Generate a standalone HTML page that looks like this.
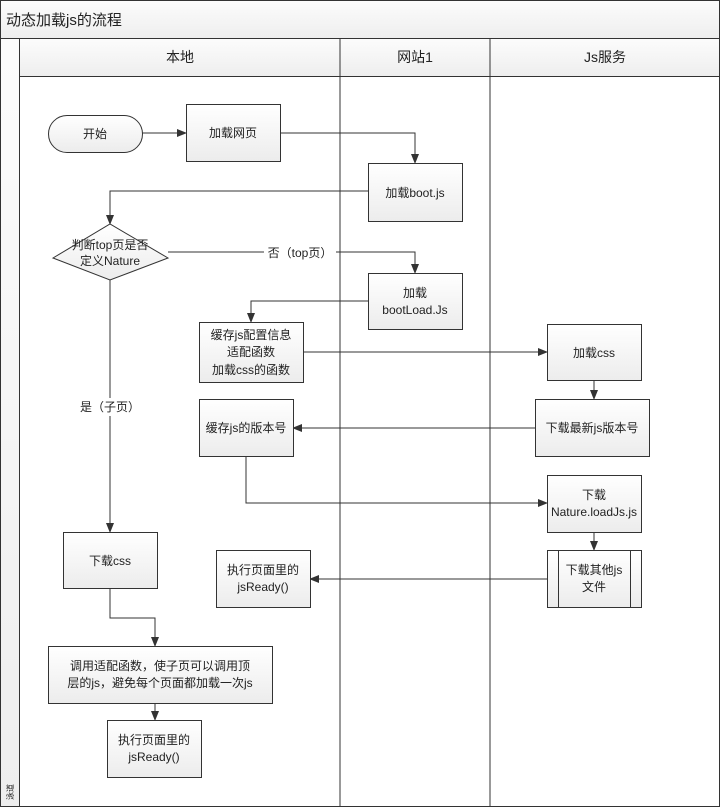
<!DOCTYPE html>
<html><head><meta charset="utf-8"><style>
html,body{margin:0;padding:0;background:#fff;}
svg{display:block;}
text{font-family:"Liberation Sans","Noto Sans CJK SC",sans-serif;font-size:12px;fill:#222;}
</style></head><body>
<svg width="720" height="807" viewBox="0 0 720 807" xmlns="http://www.w3.org/2000/svg">
<defs>
<linearGradient id="g" x1="0" y1="0" x2="0" y2="1"><stop offset="0" stop-color="#ffffff"/><stop offset="1" stop-color="#ececec"/></linearGradient>
<linearGradient id="h" x1="0" y1="0" x2="0" y2="1"><stop offset="0" stop-color="#fcfcfc"/><stop offset="1" stop-color="#eeeeee"/></linearGradient>
<marker id="a" markerWidth="10" markerHeight="10" refX="9" refY="5" orient="auto" markerUnits="userSpaceOnUse"><path d="M0,1 L10,5 L0,9 Z" fill="#333"/></marker>
</defs>
<rect x="0.5" y="0.5" width="719" height="806" fill="#fff" stroke="#333"/>
<rect x="0.5" y="0.5" width="719" height="38" fill="url(#h)" stroke="#333"/>
<text x="6" y="25" style="font-size:15px">动态加载js的流程</text>
<rect x="0.5" y="38.5" width="19" height="768" fill="url(#h)" stroke="#333"/>
<text x="0" y="0" transform="translate(13,800) rotate(-90)" style="font-size:8px">泳道</text>
<rect x="19.5" y="38.5" width="700" height="38" fill="url(#h)" stroke="#333"/>
<line x1="340" y1="38" x2="340" y2="807" stroke="#333"/>
<line x1="490" y1="38" x2="490" y2="807" stroke="#333"/>
<text x="180" y="62" text-anchor="middle" style="font-size:14px">本地</text>
<text x="415" y="62" text-anchor="middle" style="font-size:14px">网站1</text>
<text x="605" y="62" text-anchor="middle" style="font-size:14px">Js服务</text>

<g fill="none" stroke="#333" stroke-width="1">
<path d="M142,133 H186" marker-end="url(#a)"/>
<path d="M280,133 H415 V163" marker-end="url(#a)"/>
<path d="M368,191 H110 V224" marker-end="url(#a)"/>
<path d="M168,252 H415 V273" marker-end="url(#a)"/>
<path d="M368,301 H251 V322" marker-end="url(#a)"/>
<path d="M303,352 H547" marker-end="url(#a)"/>
<path d="M594,380 V399" marker-end="url(#a)"/>
<path d="M535,428 H293" marker-end="url(#a)"/>
<path d="M246,456 V503 H547" marker-end="url(#a)"/>
<path d="M594,532 V550" marker-end="url(#a)"/>
<path d="M547,579 H310" marker-end="url(#a)"/>
<path d="M110,280 V532" marker-end="url(#a)"/>
<path d="M110,588 V618 H155 V646" marker-end="url(#a)"/>
<path d="M155,703 V720" marker-end="url(#a)"/>
</g>
<rect x="264" y="244" width="72" height="16" fill="#fff"/>
<text x="300" y="257" text-anchor="middle">否（top页）</text>
<rect x="72" y="398" width="76" height="18" fill="#fff"/>
<text x="110" y="411" text-anchor="middle">是（子页）</text>

<g stroke="#333" fill="url(#g)">
<rect x="48.5" y="115.5" width="94" height="37" rx="18.5"/>
<rect x="186.5" y="104.5" width="94" height="57"/>
<rect x="368.5" y="163.5" width="94" height="58"/>
<path d="M53,258 L110,224 L168,258 L110,280 Z"/>
<rect x="368.5" y="273.5" width="94" height="56"/>
<rect x="199.5" y="322.5" width="104" height="60"/>
<rect x="547.5" y="324.5" width="94" height="56"/>
<rect x="535.5" y="399.5" width="114" height="57"/>
<rect x="199.5" y="399.5" width="94" height="57"/>
<rect x="547.5" y="475.5" width="94" height="57"/>
<rect x="547.5" y="550.5" width="94" height="57"/>
<rect x="216.5" y="550.5" width="94" height="57"/>
<rect x="63.5" y="532.5" width="94" height="56"/>
<rect x="48.5" y="646.5" width="224" height="57"/>
<rect x="107.5" y="720.5" width="94" height="57"/>
</g>
<line x1="558.5" y1="550" x2="558.5" y2="608" stroke="#333"/>
<line x1="630.5" y1="550" x2="630.5" y2="608" stroke="#333"/>

<g text-anchor="middle">
<text x="95" y="138">开始</text>
<text x="233" y="137">加载网页</text>
<text x="415" y="197">加载boot.js</text>
<text x="110" y="249">判断top页是否</text>
<text x="110" y="265">定义Nature</text>
<text x="415" y="297">加载</text>
<text x="415" y="314">bootLoad.Js</text>
<text x="251" y="339">缓存js配置信息</text>
<text x="251" y="356">适配函数</text>
<text x="251" y="374">加载css的函数</text>
<text x="594" y="357">加载css</text>
<text x="592" y="432">下载最新js版本号</text>
<text x="246" y="432">缓存js的版本号</text>
<text x="594" y="499">下载</text>
<text x="594" y="516">Nature.loadJs.js</text>
<text x="594" y="574">下载其他js</text>
<text x="594" y="591">文件</text>
<text x="263" y="574">执行页面里的</text>
<text x="263" y="591">jsReady()</text>
<text x="110" y="565">下载css</text>
<text x="160" y="670">调用适配函数，使子页可以调用顶</text>
<text x="160" y="687">层的js，避免每个页面都加载一次js</text>
<text x="154" y="744">执行页面里的</text>
<text x="154" y="761">jsReady()</text>
</g>
</svg>
</body></html>
